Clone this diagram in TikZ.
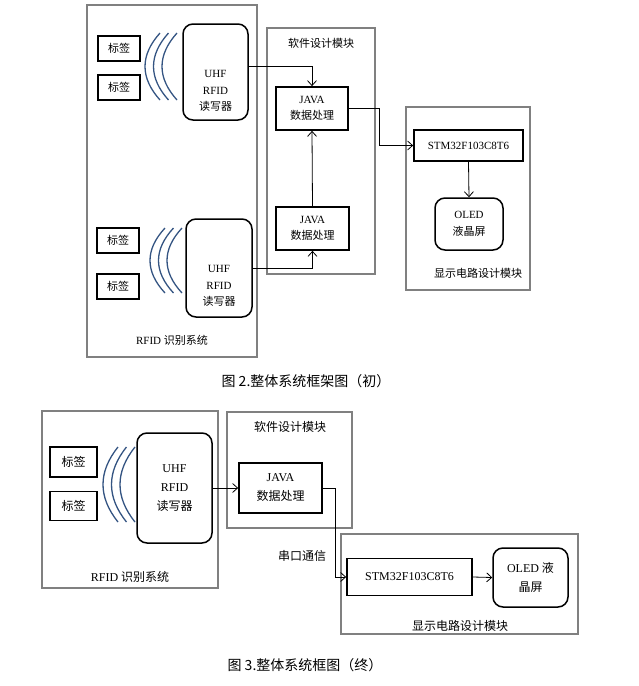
\documentclass[tikz,border=0pt]{standalone}
\usepackage{fontspec}
\setmainfont{Liberation Serif}
\newfontfamily\cjk{Noto Sans CJK SC}
\usetikzlibrary{arrows.meta}
\definecolor{wavecol}{RGB}{52,84,130}
\definecolor{modgray}{RGB}{128,128,128}
% three radio arcs: left x, top y, bottom y
\newcommand{\rfwaves}[3]{%
  \foreach \d in {0,8.5,17}
    \draw[wave] ({#1+15+\d},#2) .. controls ({#1+\d-5},{#2+(#3-#2)/3}) and ({#1+\d-5},{#2+2*(#3-#2)/3}) .. ({#1+15+\d},#3);}

\begin{document}
\begin{tikzpicture}[x=1pt, y=-1pt, >={Straight Barb[length=5pt,width=9pt]},
    modbox/.style={draw=modgray, line width=1.8pt},
    tagbox/.style={draw, line width=1.6pt, font=\fontsize{11}{13}\selectfont\cjk},
    readbox/.style={draw, line width=1.5pt, rounded corners=10pt},
    procbox/.style={draw, line width=1.7pt, align=center},
    small/.style={font=\fontsize{11}{16.5}\selectfont, align=center},
    big/.style={font=\fontsize{12}{19}\selectfont, align=center},
    wave/.style={draw=wavecol, line width=1.3pt},
    arr/.style={->, line width=0.8pt}]
    \useasboundingbox (0,0) rectangle (639,686);

    % ---------- Bild 2 ----------
    % RFID
    \node[modbox, minimum width=170pt, minimum height=352pt] (rfidA) at (172,181) {};
    \node[tagbox, minimum width=42pt, minimum height=25pt] (tagA1) at (119,48.5) {标签};
    \node[tagbox, minimum width=42pt, minimum height=25pt] (tagA2) at (119,87.5) {标签};
    \node[tagbox, minimum width=42pt, minimum height=25pt] (tagA3) at (118,240.5) {标签};
    \node[tagbox, minimum width=42pt, minimum height=25pt] (tagA4) at (118,286.5) {标签};
    \rfwaves{145}{33}{100}
    \rfwaves{150}{228}{293}
    \node[readbox, minimum width=65pt, minimum height=96pt] (readA1) at (215.5,72) {};
    \node[small] (readA1txt) at (215.5,91) {UHF\\RFID\\{\cjk 读写器}};
    \node[readbox, minimum width=66pt, minimum height=98pt] (readA2) at (219,268) {};
    \node[small] (readA2txt) at (219,286) {UHF\\RFID\\{\cjk 读写器}};
    \node[small] (rfidAlab) at (172,340) {RFID {\cjk 识别系统}};

    % Software
    \node[modbox, minimum width=108pt, minimum height=246pt] (softA) at (321,151) {};
    \node[small] (softAlab) at (321,43) {\cjk 软件设计模块};
    \node[procbox, small, minimum width=72pt, minimum height=43pt] (javaA1) at (312,108.5) {JAVA\\{\cjk 数据处理}};
    \node[procbox, small, minimum width=73pt, minimum height=43pt] (javaA2) at (312.5,228.5) {JAVA\\{\cjk 数据处理}};

    % Anzeige
    \node[modbox, minimum width=124pt, minimum height=183pt] (dispA) at (468,198.5) {};
    \node[procbox, small, minimum width=109pt, minimum height=31pt] (stmA) at (468.5,145.5) {STM32F103C8T6};
    \node[readbox, small, minimum width=68pt, minimum height=52pt] (oledA) at (469,224) {OLED\\{\cjk 液晶屏}};
    \node[small] (dispAlab) at (478,273) {\cjk 显示电路设计模块};

    \draw[arr] ([yshift=6pt]readA1.east) -| (javaA1.north);
    \draw[arr] (javaA2.north) -- (javaA1.south);
    \draw[arr] (readA2.east) -| (javaA2.south);
    \draw[arr] (javaA1.east) -- ++(31,0) |- (stmA.west);
    \draw[arr] (stmA.south) -- (oledA.north);

    \node[font=\fontsize{14}{16}\selectfont\cjk] (capA) at (306,381) {图 2.整体系统框架图（初）};

    % ---------- Bild 3 ----------
    % RFID
    \node[modbox, minimum width=176pt, minimum height=177pt] (rfidB) at (130,499.5) {};
    \node[tagbox, font=\fontsize{12}{14}\selectfont\cjk, minimum width=47pt, minimum height=30pt] (tagB1) at (73.5,462) {标签};
    \node[tagbox, font=\fontsize{12}{14}\selectfont\cjk, minimum width=47pt, minimum height=29pt] (tagB2) at (73.5,506) {标签};
    \rfwaves{103}{447}{522}
    \node[readbox, big, minimum width=75pt, minimum height=110pt] (readB) at (174.5,488) {UHF\\RFID\\{\cjk 读写器}};
    \node[big] (rfidBlab) at (130,577) {RFID {\cjk 识别系统}};

    % Software
    \node[modbox, minimum width=125pt, minimum height=116pt] (softB) at (289.5,470) {};
    \node[big] (softBlab) at (290,427) {\cjk 软件设计模块};
    \node[procbox, big, minimum width=83pt, minimum height=50pt] (javaB) at (280.5,488) {JAVA\\{\cjk 数据处理}};
    \node[big] (uartlab) at (302,556) {\cjk 串口通信};

    % Anzeige
    \node[modbox, minimum width=237pt, minimum height=100pt] (dispB) at (459.5,584) {};
    \node[procbox, big, minimum width=125pt, minimum height=37pt] (stmB) at (409.5,577) {STM32F103C8T6};
    \node[readbox, big, minimum width=75pt, minimum height=59pt] (oledB) at (530.5,577.5) {OLED {\cjk 液}\\{\cjk 晶屏}};
    \node[big] (dispBlab) at (460,626) {\cjk 显示电路设计模块};

    \draw[arr] (readB.east) -- (javaB.west);
    \draw[arr] (javaB.east) -- ++(13,0) |- (stmB.west);
    \draw[arr] (stmB.east) -- (oledB.west);

    \node[font=\fontsize{14}{16}\selectfont\cjk] (capB) at (305,665) {图 3.整体系统框图（终）};
\end{tikzpicture}
\end{document}
